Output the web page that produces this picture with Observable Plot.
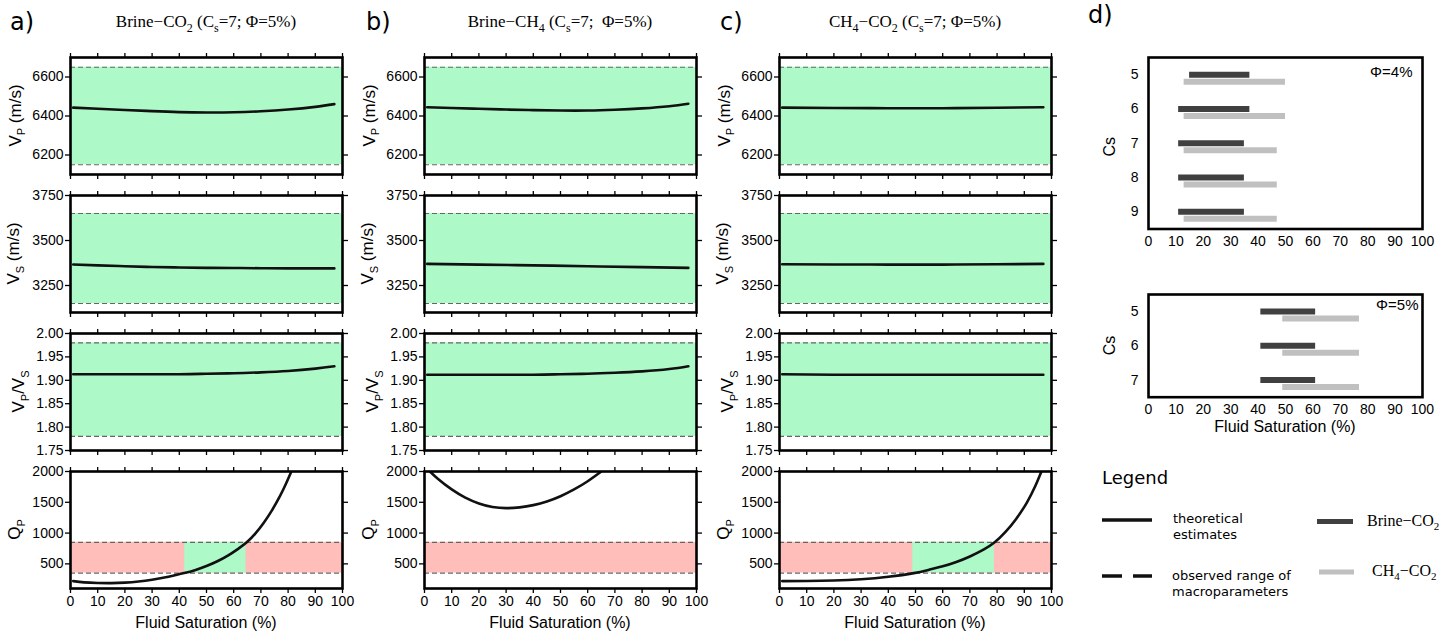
<!DOCTYPE html>
<html><head><meta charset="utf-8">
<script src="https://cdn.jsdelivr.net/npm/d3@7"></script>
<script src="https://cdn.jsdelivr.net/npm/@observablehq/plot@0.6"></script>
<style>
body{margin:0;background:#fff;}
#root{position:relative;width:1453px;height:634px;overflow:hidden;font-family:"Liberation Sans",Arial,sans-serif;}
#root > svg{position:absolute;}
</style></head><body><div id="root"></div>
<script>
// ---------- data ----------
const satTicks = [0,10,20,30,40,50,60,70,80,90,100];
const satDomain = [0, 100];
const vpDomain = [6100, 6700], vpTicks = [6200, 6400, 6600], vpRange = [6150, 6650];
const vsDomain = [3100, 3750], vsTicks = [3250, 3500, 3750], vsRange = [3150, 3650];
const ratioDomain = [1.75, 2.00], ratioTicks = [1.75, 1.80, 1.85, 1.90, 1.95, 2.00], ratioRange = [1.78, 1.98];
const qpDomain = [100, 2000], qpTicks = [500, 1000, 1500, 2000], qpRange = [350, 850];

// panel a: Brine-CO2
const vpA = [[1,6443],[10,6437],[20,6431],[30,6425],[40,6420],[50,6418],[60,6419],[70,6424],[80,6433],[90,6447],[97,6461]];
const vsA = [[1,3367],[10,3362],[20,3357],[30,3353],[40,3350],[50,3348],[60,3347],[70,3346],[80,3345],[90,3345],[97,3345]];
const ratioA = [[1,1.913],[20,1.913],[40,1.913],[50,1.914],[60,1.915],[70,1.917],[80,1.920],[90,1.925],[97,1.930]];
const qpA = [[1,220],[5,200],[10,190],[15,188],[20,195],[25,213],[30,243],[35,283],[38,312],[41.8,350],[46,402],[50,465],[54,542],[58,638],[61.5,740],[64.8,850],[68,995],[71,1165],[74,1365],[77,1600],[79,1780],[81.2,2000]];
const fitA = [42, 64.5];
// panel b: Brine-CH4
const vpB = [[1,6445],[10,6441],[20,6437],[30,6433],[40,6430],[50,6428],[60,6428],[70,6432],[80,6439],[90,6450],[97,6463]];
const vsB = [[1,3370],[20,3366],[40,3362],[60,3357],[80,3352],[97,3348]];
const ratioB = [[1,1.912],[20,1.912],[40,1.912],[50,1.913],[60,1.914],[70,1.916],[80,1.919],[90,1.924],[97,1.930]];
const qpB = [[2,2000],[5,1879],[10,1709],[15,1576],[20,1481],[25,1424],[30,1405],[35,1417],[40,1454],[45,1514],[50,1599],[55,1709],[60,1842],[65,2000]];
const fitB = null;
// panel c: CH4-CO2
const vpC = [[1,6443],[20,6441],[40,6440],[60,6440],[80,6442],[97,6445]];
const vsC = [[1,3368],[20,3367],[40,3366],[60,3366],[80,3368],[97,3370]];
const ratioC = [[1,1.913],[20,1.912],[50,1.912],[80,1.912],[97,1.912]];
const qpC = [[1,220],[10,222],[20,230],[30,250],[40,290],[49.4,350],[55,405],[60,460],[65,530],[70,620],[75,730],[79.1,850],[83,1015],[87,1230],[91,1500],[94,1760],[96.3,2000]];
const fitC = [49, 79];

// panel d
const csPhi4 = [5, 6, 7, 8, 9];
const brineCO2Phi4 = [[15,37],[11,37],[11,35],[11,35],[11,35]];
const ch4CO2Phi4 = [[13,50],[13,50],[13,47],[13,47],[13,47]];
const csPhi5 = [5, 6, 7];
const brineCO2Phi5 = [[41,61],[41,61],[41,61]];
const ch4CO2Phi5 = [[49,77],[49,77],[49,77]];

// ---------- style ----------
const GREEN = "#adf9c8", RED = "#ffbeb9", DASH = "#666";
const root = document.getElementById("root");
const ML = 70, MR = 15, MT = 12, PW = 272, PH = 117;
const colX = [70, 424, 779];
const rowY = [57, 195, 333, 471];
const noLabel = () => "";
const plain = d => String(d);

function panel(curve, domain, ticks, range, fit, fmt, isQp, bottom, left, top) {
  const MB = bottom ? 30 : 12;
  const marks = [];
  if (isQp) {
    marks.push(Plot.rect([range], {x1: () => satDomain[0], x2: () => satDomain[1], y1: d => d[0], y2: d => d[1], fill: RED}));
    if (fit) marks.push(Plot.rect([fit], {x1: d => d[0], x2: d => d[1], y1: () => range[0], y2: () => range[1], fill: GREEN}));
  } else {
    marks.push(Plot.rect([range], {x1: () => satDomain[0], x2: () => satDomain[1], y1: d => d[0], y2: d => d[1], fill: GREEN}));
  }
  marks.push(
    Plot.ruleY(range, {stroke: DASH, strokeWidth: 1.2, strokeDasharray: "5,3"}),
    Plot.line(curve, {x: d => d[0], y: d => d[1], curve: "natural", stroke: "#111", strokeWidth: 2.6, clip: true}),
    Plot.frame({stroke: "#000", strokeWidth: 2.6}),
    Plot.axisY(ticks, {anchor: "left", tickSize: 5, tickPadding: 2, tickFormat: fmt, label: null, strokeWidth: 1.3}),
    Plot.axisY(ticks, {anchor: "right", tickSize: 5, tickFormat: noLabel, label: null, strokeWidth: 1.3}),
    Plot.axisX(satTicks, {anchor: "top", tickSize: 5, tickFormat: noLabel, label: null, strokeWidth: 1.3}),
    Plot.axisX(satTicks, {anchor: "bottom", tickSize: 5, tickPadding: 3, tickFormat: bottom ? plain : noLabel, label: null, strokeWidth: 1.3})
  );
  const svg = Plot.plot({
    width: ML + PW + MR, height: MT + PH + MB,
    marginLeft: ML, marginRight: MR, marginTop: MT, marginBottom: MB,
    style: {background: "transparent", overflow: "visible", fontFamily: "'Liberation Sans', Arial, sans-serif", fontSize: "14px", color: "#000"},
    x: {domain: satDomain},
    y: {domain: domain},
    marks
  });
  svg.style.left = (left - ML) + "px";
  svg.style.top = (top - MT) + "px";
  root.appendChild(svg);
}

const cols = [
  {vp: vpA, vs: vsA, ratio: ratioA, qp: qpA, fit: fitA},
  {vp: vpB, vs: vsB, ratio: ratioB, qp: qpB, fit: fitB},
  {vp: vpC, vs: vsC, ratio: ratioC, qp: qpC, fit: fitC}
];
const f2 = d3.format(".2f");
cols.forEach((c, i) => {
  panel(c.vp, vpDomain, vpTicks, vpRange, null, plain, false, false, colX[i], rowY[0]);
  panel(c.vs, vsDomain, vsTicks, vsRange, null, plain, false, false, colX[i], rowY[1]);
  panel(c.ratio, ratioDomain, ratioTicks, ratioRange, null, f2, false, false, colX[i], rowY[2]);
  panel(c.qp, qpDomain, qpTicks, qpRange, c.fit, plain, true, true, colX[i], rowY[3]);
});

// panel d
function dPanel(cs, brine, ch4, label, top, h, ldx, ldy) {
  const L = 40, R = 15, T = 10, B = 30, W = 274;
  const svg = Plot.plot({
    width: L + W + R, height: T + h + B,
    marginLeft: L, marginRight: R, marginTop: T, marginBottom: B,
    style: {background: "transparent", overflow: "visible", fontFamily: "'Liberation Sans', Arial, sans-serif", fontSize: "14px", color: "#000"},
    x: {domain: satDomain},
    y: {domain: [d3.max(cs) + 0.5, d3.min(cs) - 0.5]},
    marks: [
      Plot.ruleY(cs, {y: d => d, x1: (d, i) => brine[i][0], x2: (d, i) => brine[i][1], stroke: "#404040", strokeWidth: 6}),
      Plot.ruleY(cs, {y: d => d, x1: (d, i) => ch4[i][0], x2: (d, i) => ch4[i][1], stroke: "#c0c0c0", strokeWidth: 6, dy: 7}),
      Plot.frame({stroke: "#000", strokeWidth: 2.6}),
      Plot.axisY(cs, {anchor: "left", tickSize: 0, tickPadding: 10, tickFormat: plain, label: null}),
      Plot.axisX(satTicks, {anchor: "bottom", tickSize: 0, tickPadding: 7, tickFormat: plain, label: null}),
      Plot.text([label], {frameAnchor: "top-right", textAnchor: "end", lineAnchor: "middle", dx: ldx, dy: ldy, fontSize: 15})
    ]
  });
  svg.style.left = (1148 - L) + "px";
  svg.style.top = (top - T) + "px";
  root.appendChild(svg);
}
dPanel(csPhi4, brineCO2Phi4, ch4CO2Phi4, "Φ=4%", 57, 171.5, -10, 15);
dPanel(csPhi5, brineCO2Phi5, ch4CO2Phi5, "Φ=5%", 294, 102.7, -4, 11);

// ---------- annotations overlay ----------
const ov = d3.select(root).append("svg")
  .attr("width", 1453).attr("height", 634)
  .style("left", "0px").style("top", "0px").style("pointer-events", "none");

function rich(g, parts, size, sub) {
  parts.forEach(([t, s], i) => {
    const ts = g.append("tspan").text(t);
    if (s) ts.attr("font-size", sub).attr("dy", size * 0.28);
    else if (i > 0 && parts[i - 1][1]) ts.attr("dy", -size * 0.28);
  });
}

const letterFont = "'DejaVu Sans', sans-serif";
[["a)", 10, 30], ["b)", 366, 30], ["c)", 720, 30], ["d)", 1088, 23]].forEach(([t, x, y]) =>
  ov.append("text").attr("x", x).attr("y", y).attr("font-family", letterFont).attr("font-size", 24).text(t));

const titles = [
  [["Brine−CO", 0], ["2", 1], [" (C", 0], ["s", 1], ["=7; Φ=5%)", 0]],
  [["Brine−CH", 0], ["4", 1], [" (C", 0], ["s", 1], ["=7;  Φ=5%)", 0]],
  [["CH", 0], ["4", 1], ["−CO", 0], ["2", 1], [" (C", 0], ["s", 1], ["=7; Φ=5%)", 0]]
];
titles.forEach((parts, i) => {
  const t = ov.append("text").attr("x", colX[i] + PW / 2).attr("y", 27)
    .attr("text-anchor", "middle").attr("font-family", "'Liberation Serif', serif").attr("font-size", 17)
    .style("white-space", "pre");
  rich(t, parts, 17, 12);
});

const yLabels = [
  [[["V", 0], ["P", 1], [" (m/s)", 0]], 20.5],
  [[["V", 0], ["S", 1], [" (m/s)", 0]], 19],
  [[["V", 0], ["P", 1], ["/V", 0], ["S", 1]], 24],
  [[["Q", 0], ["P", 1]], 20]
];
colX.forEach((cx, ci) => {
  yLabels.forEach(([parts, bx], ri) => {
    const x = bx + (cx - colX[0]), y = rowY[ri] + PH / 2;
    const t = ov.append("text").attr("transform", `translate(${x},${y}) rotate(-90)`)
      .attr("text-anchor", "middle").attr("font-size", 17);
    rich(t, parts, 17, 11);
  });
  ov.append("text").attr("x", cx + PW / 2).attr("y", 628).attr("text-anchor", "middle")
    .attr("font-size", 16).text("Fluid Saturation (%)");
});

// panel d labels
[[146.7], [345.5]].forEach(([y]) =>
  ov.append("text").attr("transform", `translate(1115,${y}) rotate(-90)`).attr("text-anchor", "middle")
    .attr("font-size", 16).text("Cs"));
ov.append("text").attr("x", 1285).attr("y", 432).attr("text-anchor", "middle").attr("font-size", 16).text("Fluid Saturation (%)");

// legend
const lg = ov.append("g").attr("font-family", letterFont);
lg.append("text").attr("x", 1102).attr("y", 484).attr("font-size", 18).text("Legend");
lg.append("line").attr("x1", 1102).attr("x2", 1152).attr("y1", 520).attr("y2", 520).attr("stroke", "#111").attr("stroke-width", 3.5);
lg.append("line").attr("x1", 1102).attr("x2", 1152).attr("y1", 576).attr("y2", 576).attr("stroke", "#111").attr("stroke-width", 3.5).attr("stroke-dasharray", "20,11");
[["theoretical", 523], ["estimates", 539]].forEach(([t, y]) => lg.append("text").attr("x", 1173).attr("y", y).attr("font-size", 13).text(t));
[["observed range of", 580], ["macroparameters", 596]].forEach(([t, y]) => lg.append("text").attr("x", 1172).attr("y", y).attr("font-size", 13).text(t));
lg.append("line").attr("x1", 1317).attr("x2", 1353).attr("y1", 521.5).attr("y2", 521.5).attr("stroke", "#404040").attr("stroke-width", 5);
lg.append("line").attr("x1", 1319).attr("x2", 1354).attr("y1", 572).attr("y2", 572).attr("stroke", "#c0c0c0").attr("stroke-width", 5);
const l1 = ov.append("text").attr("x", 1367).attr("y", 526).attr("font-family", "'Liberation Serif', serif").attr("font-size", 16);
rich(l1, [["Brine−CO", 0], ["2", 1]], 16, 11);
const l2 = ov.append("text").attr("x", 1372).attr("y", 576).attr("font-family", "'Liberation Serif', serif").attr("font-size", 16);
rich(l2, [["CH", 0], ["4", 1], ["−CO", 0], ["2", 1]], 16, 11);
</script></body></html>
